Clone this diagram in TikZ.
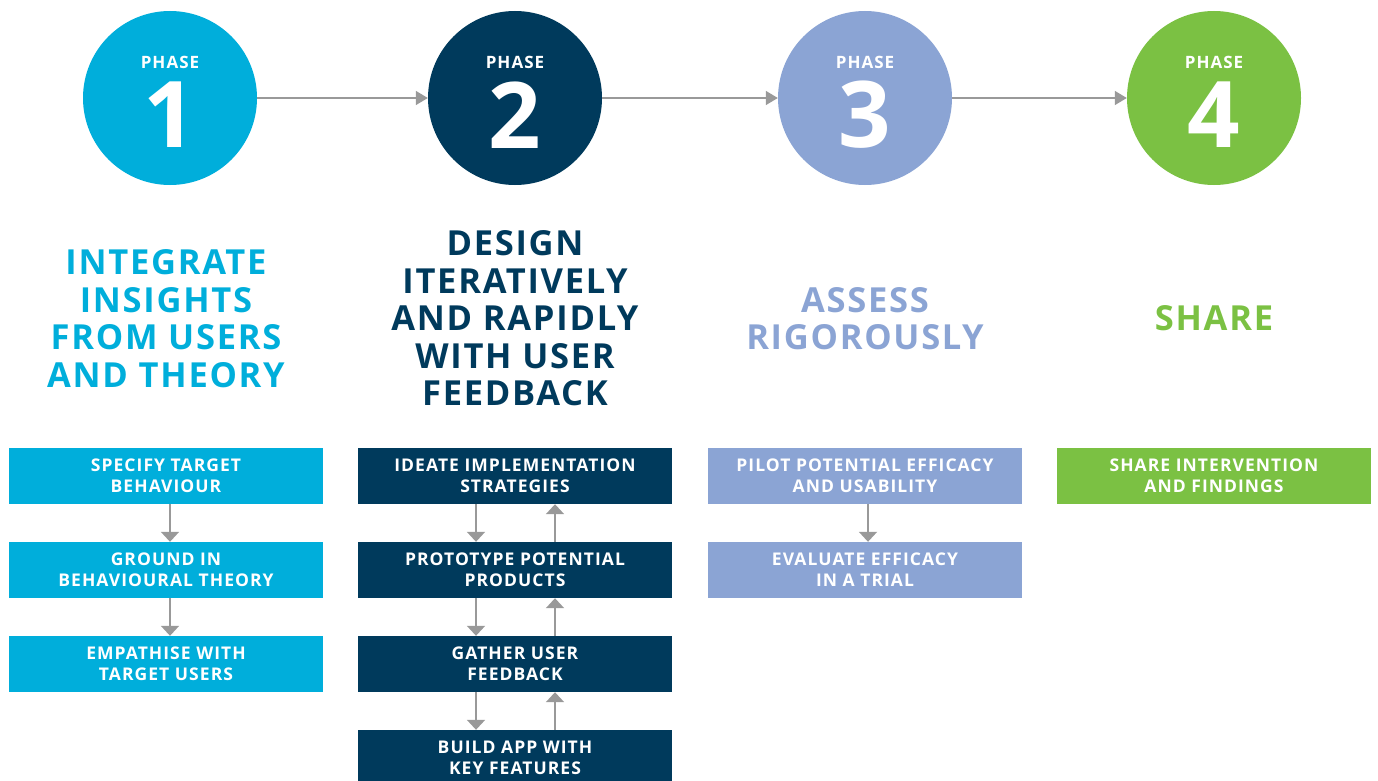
\documentclass[tikz,border=0pt]{standalone}
\usepackage{fontspec}
\setmainfont{Open Sans}
\newfontfamily\trk{Open Sans}[LetterSpace=6]
\newfontfamily\trt{Open Sans}[LetterSpace=5]
\usetikzlibrary{arrows.meta}
\definecolor{pcyan}{HTML}{00AEDB}
\definecolor{pnavy}{HTML}{003A5C}
\definecolor{plav}{HTML}{8BA4D4}
\definecolor{pgreen}{HTML}{7BC143}
\definecolor{parr}{HTML}{999999}
\tikzset{
  phasecirc/.style={circle, minimum size=174pt, inner sep=0pt},
  phlabel/.style={text=white, font=\trk\bfseries\fontsize{17}{17}\selectfont},
  phnum/.style={text=white, font=\bfseries\fontsize{92}{92}\selectfont},
  title/.style={align=center, font=\trt\bfseries\fontsize{34.5}{37.5}\selectfont},
  stepbox/.style={minimum width=314pt, minimum height=56pt, inner sep=0pt, text=white, align=center, font=\trk\bfseries\fontsize{17.5}{21}\selectfont},
  harr/.style={draw=parr, line width=1.5pt, -{Triangle[width=14pt,length=12pt]}},
  varr/.style={draw=parr, line width=2pt, -{Triangle[width=18pt,length=10pt]}},
}
\begin{document}
\begin{tikzpicture}[x=1pt,y=-1pt]
\useasboundingbox (0,0) rectangle (1378,781);
% circles
\node[phasecirc, fill=pcyan] (c1) at (170,98) {};
\node[phasecirc, fill=pnavy] (c2) at (515,98) {};
\node[phasecirc, fill=plav] (c3) at (865,98) {};
\node[phasecirc, fill=pgreen] (c4) at (1214,98) {};
\foreach \i/\x in {1/170,2/515,3/865,4/1214}{
  \node[phlabel] (pl\i) at (\x,62) {PHASE};
  \node[phnum] (pn\i) at (\x,115) {\i};
}
\draw[harr] (c1) -- (c2);
\draw[harr] (c2) -- (c3);
\draw[harr] (c3) -- (c4);
% titles
\node[title, text=pcyan] (t1) at (166,318.5) {INTEGRATE\\INSIGHTS\\FROM USERS\\AND THEORY};
\node[title, text=pnavy] (t2) at (515,318.5) {DESIGN\\ITERATIVELY\\AND RAPIDLY\\WITH USER\\FEEDBACK};
\node[title, text=plav] (t3) at (865,318.5) {ASSESS\\RIGOROUSLY};
\node[title, text=pgreen] (t4) at (1214,318.5) {SHARE};
% column 1
\node[stepbox, fill=pcyan] (a1) at (166,476) {SPECIFY TARGET\\BEHAVIOUR};
\node[stepbox, fill=pcyan] (a2) at (166,570) {GROUND IN\\BEHAVIOURAL THEORY};
\node[stepbox, fill=pcyan] (a3) at (166,664) {EMPATHISE WITH\\TARGET USERS};
% column 2
\node[stepbox, fill=pnavy] (b1) at (515,476) {IDEATE IMPLEMENTATION\\STRATEGIES};
\node[stepbox, fill=pnavy] (b2) at (515,570) {PROTOTYPE POTENTIAL\\PRODUCTS};
\node[stepbox, fill=pnavy] (b3) at (515,664) {GATHER USER\\FEEDBACK};
\node[stepbox, fill=pnavy] (b4) at (515,758) {BUILD APP WITH\\KEY FEATURES};
% column 3
\node[stepbox, fill=plav] (d1) at (865,476) {PILOT POTENTIAL EFFICACY\\AND USABILITY};
\node[stepbox, fill=plav] (d2) at (865,570) {EVALUATE EFFICACY\\IN A TRIAL};
% column 4
\node[stepbox, fill=pgreen] (e1) at (1214,476) {SHARE INTERVENTION\\AND FINDINGS};
% vertical arrows
\draw[varr] (a1.south -| 170,0) -- (a2.north -| 170,0);
\draw[varr] (a2.south -| 170,0) -- (a3.north -| 170,0);
\draw[varr] (b1.south -| 476,0) -- (b2.north -| 476,0);
\draw[varr] (b2.south -| 476,0) -- (b3.north -| 476,0);
\draw[varr] (b3.south -| 476,0) -- (b4.north -| 476,0);
\draw[varr] (b2.north -| 555,0) -- (b1.south -| 555,0);
\draw[varr] (b3.north -| 555,0) -- (b2.south -| 555,0);
\draw[varr] (b4.north -| 555,0) -- (b3.south -| 555,0);
\draw[varr] (d1.south -| 868,0) -- (d2.north -| 868,0);
\end{tikzpicture}
\end{document}
